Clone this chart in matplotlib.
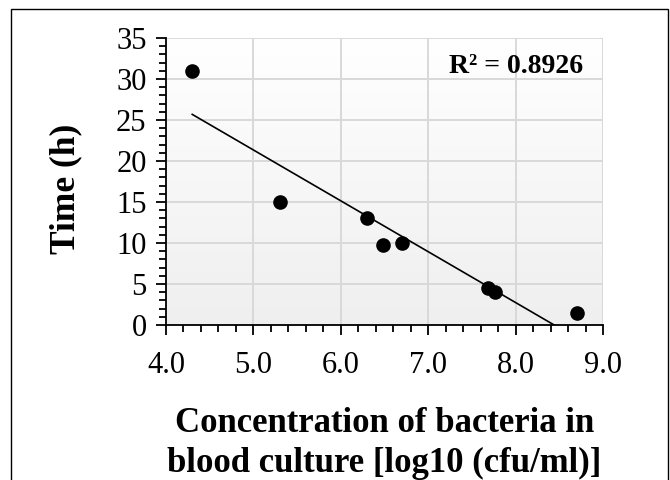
import matplotlib
matplotlib.use("Agg")
import matplotlib.pyplot as plt
import matplotlib.patches as patches
from matplotlib.ticker import MultipleLocator, FormatStrFormatter
import numpy as np

# log10 (cfu/ml) vs time to positivity (h)
conc = [4.3, 5.3, 6.3, 6.48, 6.7, 7.68, 7.77, 8.7]
time_h = [31.0, 15.0, 13.0, 9.7, 10.0, 4.5, 4.0, 1.5]
r2_label = "R² = 0.8926"

plt.rcParams["font.family"] = ["Liberation Serif", "DejaVu Serif"]

fig = plt.figure(figsize=(6.7, 4.8), dpi=100)
ax = fig.add_axes([166 / 670, 1 - 325 / 480, (603 - 166) / 670, (325 - 38) / 480])

# light gradient in the plot area, white at the top
grad = np.linspace(0, 1, 256).reshape(-1, 1)
ax.imshow(grad, extent=[0, 1, 0, 1], transform=ax.transAxes, aspect="auto",
          cmap=matplotlib.colors.LinearSegmentedColormap.from_list("g", ["#ffffff", "#efefef"]),
          origin="upper", zorder=0)

ax.set_xlim(4.0, 9.0)
ax.set_ylim(0, 35)
ax.grid(True, color="#d9d9d9", linewidth=1.4, zorder=1)
ax.set_axisbelow(True)

ax.scatter(conc, time_h, s=90, color="black", zorder=4)

# linear trendline over the data range
k, b = np.polyfit(conc, time_h, 1)
xs = np.array([min(conc), max(conc)])
ax.plot(xs, k * xs + b, color="black", linewidth=1.2, zorder=3)

ax.text(0.954, 0.9, r2_label, transform=ax.transAxes, ha="right", va="center",
        fontsize=20, fontweight="bold", zorder=5)

ax.xaxis.set_major_locator(MultipleLocator(1.0))
ax.xaxis.set_minor_locator(MultipleLocator(0.2))
ax.xaxis.set_major_formatter(FormatStrFormatter("%.1f"))
ax.yaxis.set_major_locator(MultipleLocator(5))
ax.yaxis.set_minor_locator(MultipleLocator(1))

ax.tick_params(which="major", direction="out", length=7, width=1.3, labelsize=22)
ax.tick_params(which="minor", direction="out", length=5, width=1.3)
ax.tick_params(axis="y", pad=7)
ax.tick_params(axis="x", pad=12)

for side in ["top", "right"]:
    ax.spines[side].set_visible(False)
for side in ["left", "bottom"]:
    ax.spines[side].set_linewidth(1.3)
    ax.spines[side].set_zorder(6)

ax.set_ylabel("Time (h)", fontsize=25.5, fontweight="bold")
ax.yaxis.set_label_coords(-0.192, 0.475)
ax.set_xlabel("Concentration of bacteria in\nblood culture [log10 (cfu/ml)]",
              fontsize=25, fontweight="bold", labelpad=19, linespacing=1.3)

# outer border of the chart
fig.add_artist(patches.Rectangle((11 / 670, -0.02), (668 - 11) / 670, 1 - 9 / 480 + 0.02,
                                 transform=fig.transFigure, fill=False,
                                 edgecolor="black", linewidth=1.0, clip_on=False))

fig.savefig("out.png", dpi=100)
